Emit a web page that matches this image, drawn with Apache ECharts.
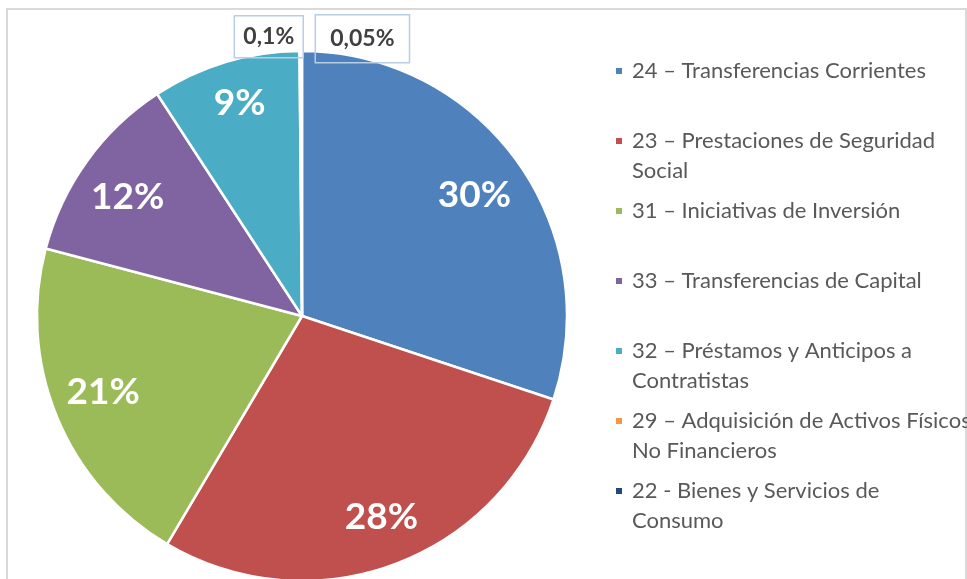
<!DOCTYPE html>
<html>
<head>
<meta charset="utf-8">
<script src="https://cdn.jsdelivr.net/npm/echarts@6/dist/echarts.min.js"></script>
<style>
html, body { margin: 0; padding: 0; background: #fff; }
#chart { width: 967px; height: 579px; }
</style>
</head>
<body>
<div id="chart"></div>
<script>
// partidas del gasto (% del total)
var categories = [
    '24 – Transferencias Corrientes',
    '23 – Prestaciones de Seguridad Social',
    '31 – Iniciativas de Inversión',
    '33 – Transferencias de Capital',
    '32 – Préstamos y Anticipos a Contratistas',
    '29 – Adquisición de Activos Físicos No Financieros',
    '22 - Bienes y Servicios de Consumo'
];
var legendLines = [
    '24 – Transferencias Corrientes',
    '23 – Prestaciones de Seguridad\nSocial',
    '31 – Iniciativas de Inversión',
    '33 – Transferencias de Capital',
    '32 – Préstamos y Anticipos a\nContratistas',
    '29 – Adquisición de Activos Físicos\nNo Financieros',
    '22 - Bienes y Servicios de\nConsumo'
];
var values = [30.1, 28.4, 20.6, 11.7, 9.05, 0.1, 0.05];
var colors = ['#4F81BD', '#C0504D', '#9BBB59', '#8064A2', '#4BACC6', '#F79646', '#1F497D'];

// pequeños ajustes de posicion de las etiquetas (como el "mejor ajuste" de Excel)
var nudgeX = [-2, 4, 0, 0, 0];
var nudgeY = [5, 0, -6, 7, -7];

function pctText(v) {
    return v >= 1 ? Math.round(v) + '%' : String(v).replace('.', ',') + '%';
}

function smallLabel(pad) {
    return {
        show: true,
        position: 'outside',
        fontFamily: 'Lato',
        fontSize: 23,
        fontWeight: 'bold',
        color: '#404040',
        borderColor: '#B9CDE5',
        borderWidth: 1.5,
        padding: pad,
        formatter: function (p) { return pctText(p.value); }
    };
}
var smallPads = { 5: [10, 9, 9, 9], 6: [13, 15, 12, 15] };

var sliceData = categories.map(function (name, i) {
    var d = { name: name, value: values[i] };
    if (values[i] < 1) d.label = smallLabel(smallPads[i]);
    return d;
});
var labelData = categories.map(function (name, i) {
    return { name: name, value: values[i], label: { show: values[i] >= 1 } };
});

var chart = echarts.init(document.getElementById('chart'));
var option = {
    animation: false,
    color: colors,
    graphic: [{
        type: 'rect',
        shape: { x: 7, y: 9, width: 959, height: 640 },
        style: { fill: 'none', stroke: '#D9D9D9', lineWidth: 2 },
        silent: true
    }],
    legend: {
        orient: 'vertical',
        left: 614,
        top: 26,
        padding: 0,
        itemWidth: 8,
        itemHeight: 8,
        itemGap: -20,
        icon: 'rect',
        selectedMode: false,
        data: categories,
        formatter: function (name) {
            var t = legendLines[categories.indexOf(name)];
            return ' \n' + t + (t.indexOf('\n') < 0 ? '\n ' : '');
        },
        textStyle: {
            fontFamily: 'Lato',
            fontSize: 22,
            lineHeight: 30,
            color: '#595959',
            padding: [0, 0, 0, 4]
        }
    },
    series: [{
        type: 'pie',
        center: [302, 316],
        radius: 265,
        startAngle: 90,
        silent: true,
        avoidLabelOverlap: false,
        itemStyle: { borderColor: '#fff', borderWidth: 2.5 },
        label: { show: false },
        labelLine: { show: false },
        labelLayout: function (p) {
            if (p.dataIndex === 5) {
                return { x: p.rect.x + p.rect.width, y: p.rect.y - 13, align: 'right', verticalAlign: 'middle' };
            }
            if (p.dataIndex === 6) {
                return { x: p.rect.x + p.rect.width + 12, y: p.rect.y - 11, align: 'left', verticalAlign: 'middle' };
            }
        },
        data: sliceData
    }, {
        // serie transparente solo para ubicar las etiquetas grandes
        type: 'pie',
        center: [302, 316],
        radius: 424,
        startAngle: 90,
        silent: true,
        avoidLabelOverlap: false,
        itemStyle: { color: 'rgba(0,0,0,0)' },
        label: {
            position: 'inside',
            fontFamily: 'Lato',
            fontSize: 37,
            fontWeight: 'bold',
            color: '#fff',
            formatter: function (p) { return pctText(p.value); }
        },
        labelLine: { show: false },
        labelLayout: function (p) {
            if (p.dataIndex < nudgeX.length) {
                return { dx: nudgeX[p.dataIndex], dy: nudgeY[p.dataIndex] };
            }
        },
        data: labelData
    }]
};
chart.setOption(option);
</script>
</body>
</html>
